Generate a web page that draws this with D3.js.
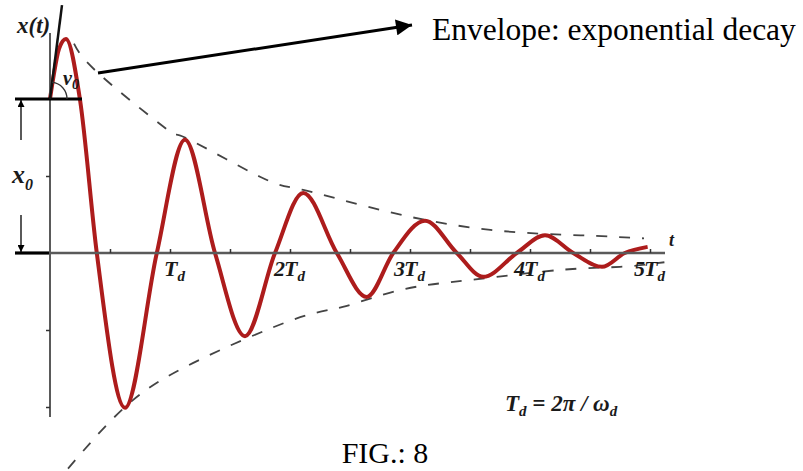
<!DOCTYPE html>
<html>
<head>
<meta charset="utf-8">
<script src="https://cdn.jsdelivr.net/npm/d3@7"></script>
<style>
body{margin:0;background:#fff;}
svg{display:block;}
</style>
</head>
<body>
<svg id="chart" width="803" height="471"></svg>
<script>
// response curve, t in units of Td, x in units of the axis ticks
curveT = [0, 0.03, 0.075, 0.133, 0.25, 0.39, 0.625, 0.89, 1.125, 1.375, 1.625, 1.875, 2.11, 2.39, 2.64, 2.86, 3.125, 3.39, 3.61, 3.89, 4.125, 4.36, 4.6, 4.79, 4.98];
curveX = [2.0, 2.3, 2.65, 2.78, 1.99, 0, -2.01, 0, 1.47, 0, -1.08, 0, 0.78, 0, -0.57, 0, 0.42, 0, -0.31, 0, 0.23, 0, -0.18, 0, 0.08];

// dashed envelopes
upperT = [0.2, 0.42, 0.98, 1.125, 1.75, 2.11, 2.83, 3.67, 4.42, 4.95];
upperX = [2.72, 2.31, 1.6, 1.5, 0.99, 0.82, 0.53, 0.3, 0.23, 0.19];
lowerT = [0.15, 0.625, 1.19, 2.02, 2.44, 2.92, 3.5, 4.25, 4.75, 5.12];
lowerX = [-2.8, -2.0, -1.43, -0.87, -0.7, -0.48, -0.35, -0.22, -0.18, -0.12];

tickT = [0.5, 1, 1.5, 2, 2.5, 3, 3.5, 4, 4.5, 5];
labelT = [1, 2, 3, 4, 5];
labelNum = ['', '2', '3', '4', '5'];
tickX = [1, -1, -2];

svg = d3.select('#chart');
x = d3.scaleLinear().domain([0, 5]).range([50, 650]);
y = d3.scaleLinear().domain([0, 1]).range([253, 176]);

function arrowHead(id, w, h){
	svg.append('defs').append('marker')
		.attr('id', id)
		.attr('viewBox', '0 0 10 10')
		.attr('refX', 10).attr('refY', 5)
		.attr('markerUnits', 'userSpaceOnUse')
		.attr('markerWidth', w).attr('markerHeight', h)
		.attr('orient', 'auto')
		.append('path').attr('d', 'M0,0L10,5L0,10z').attr('fill', '#000');
}
arrowHead('big', 18, 16);
arrowHead('small', 7, 7);

function bi(sel){
	return sel.attr('font-family', 'Liberation Serif').attr('font-weight', 'bold').attr('font-style', 'italic').attr('fill', '#1a1a1a');
}

function drawAxes(){
	// horizontal axis
	svg.append('line').attr('x1', 15).attr('x2', x(5.125)).attr('y1', y(0)).attr('y2', y(0))
		.attr('stroke', '#5a5a5a').attr('stroke-width', 2.5);
	svg.append('line').attr('x1', 15).attr('x2', x(0)).attr('y1', y(0)).attr('y2', y(0))
		.attr('stroke', '#000').attr('stroke-width', 3);
	let xa = svg.append('g').attr('transform', 'translate(0,' + y(0) + ')')
		.call(d3.axisBottom(x).tickValues(tickT).tickSize(-4).tickFormat(''));
	xa.select('.domain').remove();
	xa.selectAll('line').attr('stroke', '#333').attr('stroke-width', 1.5);

	// vertical axis
	svg.append('line').attr('x1', x(0)).attr('x2', x(0)).attr('y1', 33).attr('y2', y(-2.13))
		.attr('stroke', '#5a5a5a').attr('stroke-width', 2);
	let ya = svg.append('g').attr('transform', 'translate(' + x(0) + ',0)')
		.call(d3.axisLeft(y).tickValues(tickX).tickSize(4).tickFormat(''));
	ya.select('.domain').remove();
	ya.selectAll('line').attr('stroke', '#333').attr('stroke-width', 1.5);

	// tick labels
	labelT.forEach(function(t, i){
		let g = bi(svg.append('text')).attr('x', x(t) - 6).attr('y', 276).attr('font-size', 22);
		g.append('tspan').text('T');
		g.append('tspan').attr('dy', 5).attr('font-size', 15).text('d');
		if(labelNum[i] != ''){
			bi(svg.append('text')).attr('x', x(t) - 5).attr('y', 276).attr('text-anchor', 'end')
				.attr('font-size', 22).text(labelNum[i]);
		}
	});
	bi(svg.append('text')).attr('x', 669).attr('y', 246).attr('font-size', 18).text('t');
}

function drawCurves(){
	let pts = curveT.map(function(t, i){ return [t, curveX[i]]; });
	let up = upperT.map(function(t, i){ return [t, upperX[i]]; });
	let lo = lowerT.map(function(t, i){ return [t, lowerX[i]]; });
	let envLine = d3.line().x(function(d){ return x(d[0]); }).y(function(d){ return y(d[1]); }).curve(d3.curveNatural);
	[up, lo].forEach(function(e){
		svg.append('path').attr('d', envLine(e)).attr('fill', 'none')
			.attr('stroke', '#444').attr('stroke-width', 1.8).attr('stroke-dasharray', '11,12');
	});
	let line = d3.line().x(function(d){ return x(d[0]); }).y(function(d){ return y(d[1]); }).curve(d3.curveMonotoneX);
	svg.append('path').attr('d', line(pts)).attr('fill', 'none')
		.attr('stroke', '#ad1c1c').attr('stroke-width', 4).attr('stroke-linejoin', 'round');
}

function drawNotes(){
	// x0 level line and tangent for v0
	svg.append('line').attr('x1', 15).attr('x2', 82).attr('y1', y(2)).attr('y2', y(2))
		.attr('stroke', '#000').attr('stroke-width', 3);
	svg.append('line').attr('x1', x(0)).attr('y1', y(2)).attr('x2', x(0.1)).attr('y2', y(3.22))
		.attr('stroke', '#111').attr('stroke-width', 2.5);
	let r = 17, a = Math.atan2(y(2) - y(3.22), x(0.1) - x(0));
	svg.append('path')
		.attr('d', 'M' + (x(0) + r) + ',' + y(2) + 'A' + r + ',' + r + ' 0 0 0 ' + (x(0) + r * Math.cos(a)) + ',' + (y(2) - r * Math.sin(a)))
		.attr('fill', 'none').attr('stroke', '#333').attr('stroke-width', 1.3);
	let v = bi(svg.append('text')).attr('x', 63).attr('y', 85).attr('font-size', 20);
	v.append('tspan').text('v');
	v.append('tspan').attr('dy', 4).attr('font-size', 14).text('0');

	// x0 dimension
	svg.append('line').attr('x1', 21).attr('x2', 21).attr('y1', 140).attr('y2', y(2) + 1)
		.attr('stroke', '#000').attr('stroke-width', 1.3).attr('marker-end', 'url(#small)');
	svg.append('line').attr('x1', 21).attr('x2', 21).attr('y1', 215).attr('y2', y(0) - 1)
		.attr('stroke', '#000').attr('stroke-width', 1.3).attr('marker-end', 'url(#small)');
	let x0 = bi(svg.append('text')).attr('x', 12).attr('y', 183).attr('font-size', 26);
	x0.append('tspan').text('x');
	x0.append('tspan').attr('dy', 7).attr('font-size', 16).text('0');

	bi(svg.append('text')).attr('x', 17).attr('y', 33).attr('font-size', 23).text('x(t)');

	// envelope arrow and caption
	svg.append('line').attr('x1', 98).attr('y1', 73).attr('x2', 412).attr('y2', 25)
		.attr('stroke', '#000').attr('stroke-width', 3).attr('marker-end', 'url(#big)');
	svg.append('text').attr('x', 432).attr('y', 40)
		.attr('font-family', 'Liberation Serif').attr('font-size', 31.5).attr('fill', '#000')
		.text('Envelope: exponential decay');

	let td = bi(svg.append('text')).attr('x', 505).attr('y', 411).attr('font-size', 23);
	td.append('tspan').text('T');
	td.append('tspan').attr('dy', 5).attr('font-size', 15).text('d');
	td.append('tspan').attr('dy', -5).text(' = 2\u03c0 / \u03c9');
	td.append('tspan').attr('dy', 5).attr('font-size', 15).text('d');

	svg.append('text').attr('x', 385).attr('y', 463).attr('text-anchor', 'middle')
		.attr('font-family', 'Liberation Serif').attr('font-size', 30).attr('fill', '#000')
		.text('FIG.: 8');
}

drawCurves();
drawAxes();
drawNotes();
</script>
</body>
</html>
